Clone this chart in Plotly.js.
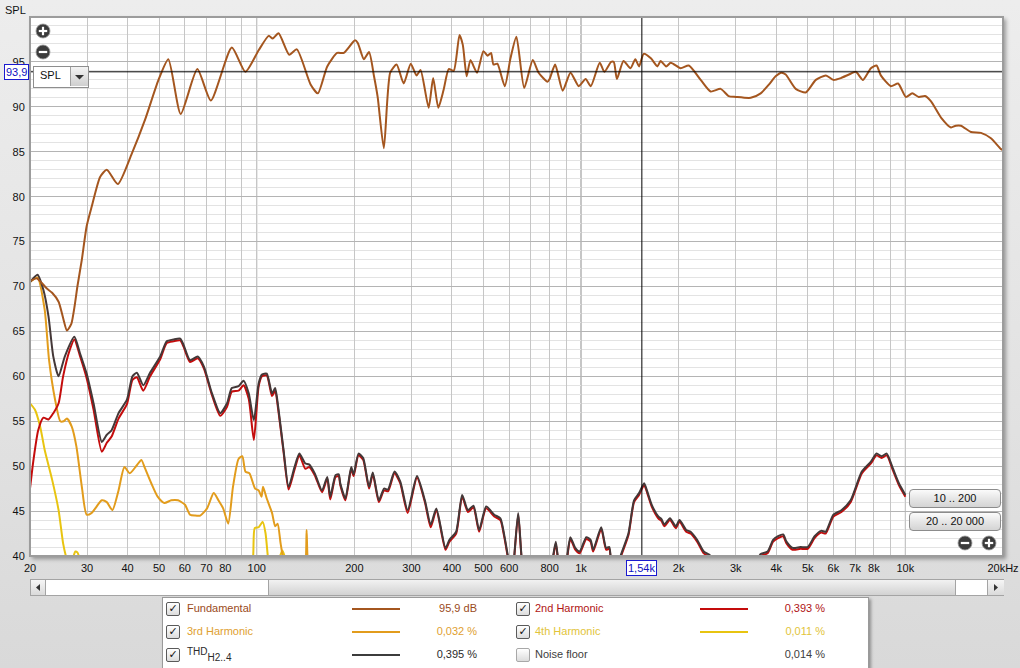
<!DOCTYPE html>
<html>
<head>
<meta charset="utf-8">
<script src="https://cdn.plot.ly/plotly-3.0.1.min.js"></script>
<style>
  html, body { margin:0; padding:0; }
  body { width:1020px; height:668px; overflow:hidden; font-family:"Liberation Sans", Arial, sans-serif; }
  #wrap { position:relative; width:1020px; height:668px; background:linear-gradient(#ededed, #e2e2e2 60%, #d9d9d9); }
  #shadow { position:absolute; left:29px; top:16px; width:974px; height:540px; box-shadow:3px 3px 4px rgba(0,0,0,0.35); background:#fff; }
  #chart { position:absolute; left:0; top:0; width:1020px; height:668px; }
  .ov { position:absolute; font-size:11px; color:#000; }
  .btn { position:absolute; width:90px; height:17px; border:1px solid #8c8c8c; border-radius:4px;
         background:linear-gradient(#fbfbfb, #e6e6e6 50%, #d4d4d4); text-align:center; line-height:17px; font-size:11px; color:#111; }
  .cb { position:absolute; width:12px; height:12px; border:1px solid #5a5a5a; border-radius:2px;
        background:linear-gradient(#ffffff, #dcdcdc); font-family:"DejaVu Sans"; font-size:11px; line-height:12px; text-align:center; font-weight:bold; color:#111; }
  .lbl { position:absolute; font-size:11px; }
  .val { position:absolute; font-size:11px; text-align:right; width:80px; }
  .ln { position:absolute; height:2px; }
</style>
</head>
<body>
<div id="wrap">
  <div id="shadow"></div>
  <div id="chart"></div>
</div>
<script>
// ---------------- DATA ----------------
const freqFund = [20,21,22.5,23.4,24.5,25.3,26,26.8,27.5,28,28.9,29.9,31,32.9,34.5,37.3,41.2,45.3,49.8,53.4,58.3,65.6,72.2,83.8,92.3,101.4,108.9,112,116.8,126,133,146.6,154.4,165,177,185.6,201,205,214,222,230,236,246.6,258,270,284,298.5,311,320,339,350,363,377,391,405,422,432,444,456,478,500,515,528,537,552,582,606,632,668,710,740,788,800,832,878,928,984,1033,1072,1142,1180,1238,1262,1290,1352,1420,1470,1510,1560,1642,1720,1760,1830,1890,2028,2150,2338,2510,2695,2850,3000,3336,3580,3800,3980,4150,4276,4592,4932,5296,5688,6000,6325,6700,7036,7400,7830,8150,8400,9020,9500,10040,10500,11000,11500,12000,12880,13820,14300,14840,15930,17100,18360,19720,20000];
const splFund  = [70.6,70.9,69.8,69.3,68.3,66.5,65.1,65.8,68.0,70.0,73.0,76.7,78.9,82.2,83.0,81.4,84.8,88.6,93.0,95.3,89.2,94.2,90.7,96.6,93.9,96.3,97.9,97.6,98.2,95.8,96.4,92.5,91.5,94.5,96.0,96.0,97.4,97.1,95.3,96.1,93.4,91.1,85.4,93.8,94.7,92.6,94.8,93.5,94.1,89.9,93.2,89.9,91.9,94.2,94.0,98.0,96.9,93.4,95.2,93.8,96.2,95.7,96.0,94.7,94.8,92.3,95.4,97.8,92.1,95.2,93.8,92.8,93.1,94.7,91.8,93.8,92.3,93.1,92.3,94.9,93.9,95.0,95.0,93.1,95.1,94.3,95.3,94.5,95.9,95.4,94.5,95.1,94.5,94.9,94.3,94.6,93.0,91.7,92.0,91.2,91.1,91.0,91.5,92.5,93.4,93.8,93.6,92.0,91.6,93.0,93.5,93.0,93.2,93.6,93.9,93.0,94.3,94.6,93.5,92.3,92.6,91.1,91.5,91.1,91.2,90.6,88.8,87.7,87.9,87.9,87.2,87.1,86.5,85.3,85.2];

const freqTHD = [20,21.1,22,22.8,23.6,24.5,25.6,27.4,28.5,29.9,31.4,33.3,34.5,35.7,37.5,39.8,41.4,42.7,44.7,46.9,50.4,52.8,55.4,58.1,59.5,62.3,65.8,68.7,72.8,77.2,81,83.8,87.9,91.1,94.5,98,101.4,103.8,107.4,111.5,114,116.5,121,125.4,130.8,135.4,141.2,145,151,159,165,168.6,175,179,181,187.7,195.6,199,206,213,222,228,238,247,254,266,277,292,312,330,344,358,382,393,412,430,448,466,485,510,540,564,580,595,612,640,662,690,790,820,836,852,880,905,927,960,990,1038,1070,1090,1154,1195,1222,1250,1300,1327,1400,1457,1510,1565,1600,1652,1730,1770,1806,1880,1960,2012,2110,2177,2280,2390,2510,2650,3300,3500,3572,3760,3910,4050,4200,4300,4490,4750,5000,5250,5500,5680,6000,6350,6780,7340,7830,8150,8450,8760,9140,9550,10000];
const splTHD  = [70.5,71.3,69.6,66.7,62.2,60.0,62.2,64.4,62.6,60.3,57.0,52.7,53.5,54.0,55.9,57.4,60.0,60.4,59.0,60.4,62.2,63.9,64.1,64.2,63.5,61.8,62.2,61.1,58.1,55.9,57.0,58.7,58.9,59.5,58.1,55.1,59.2,60.2,60.3,58.1,58.7,56.6,51.8,47.7,49.9,51.4,50.3,50.2,49.2,47.3,48.8,46.6,49.0,49.1,48.1,46.4,49.9,49.1,51.4,50.9,47.7,49.3,46.2,47.5,47.4,49.4,48.3,45.1,48.9,46.2,43.5,45.3,40.9,41.8,42.7,46.8,45.1,45.6,42.9,45.5,44.6,44.2,42.3,40.0,37.5,44.8,38.5,37.0,37.0,40.0,41.6,39.3,37.0,39.8,42.1,40.9,40.5,42.1,41.8,40.7,43.2,40.9,41.0,38.5,38.5,40.1,42.5,46.2,47.0,48.1,47.2,45.7,44.4,44.1,43.5,44.2,43.3,44.0,42.9,42.7,41.8,40.5,40.0,37.5,37.5,39.5,40.2,40.5,41.8,42.2,42.4,41.6,40.9,41.0,41.0,42.2,42.8,42.7,44.6,45.1,46.2,49.4,50.5,51.4,51.1,51.4,49.8,48.1,46.8];

const freqH2 = [20,20.5,21.2,22,22.8,23.6,24.5,25.3,26.5,27.4,28.5,29.9,31.4,33.3,34.5,35.7,37.5,39.8,41.4,42.7,44.7,46.9,50.4,52.8,55.4,58.1,59.5,62.3,65.8,68.7,72.8,77.2,81,83.8,87.9,91.1,94.5,98,101.4,103.8,107.4,111.5,114,116.5,121,125.4,130.8,135.4,141.2,145,151,159,165,168.6,175,179,181,187.7,195.6,199,206,213,222,228,238,247,254,266,277,292,312,330,344,358,382,393,412,430,448,466,485,510,540,564,580,595,612,640,662,690,790,820,836,852,880,905,927,960,990,1038,1070,1090,1154,1195,1222,1250,1300,1327,1400,1457,1510,1565,1600,1652,1730,1770,1806,1880,1960,2012,2110,2177,2280,2390,2510,2650,3300,3500,3572,3760,3910,4050,4200,4300,4490,4750,5000,5250,5500,5680,6000,6350,6780,7340,7830,8150,8450,8760,9140,9550,10000];
const splH2  = [47.5,50.7,54.0,55.4,55.2,55.9,57.0,60.0,62.9,64.1,62.3,59.8,56.3,51.6,52.6,53.3,55.3,56.9,59.6,59.9,58.4,60.0,61.9,63.7,63.9,64.0,63.3,61.6,62.0,60.9,57.9,55.6,56.6,58.3,58.4,59.0,57.5,52.9,58.9,60.0,60.1,57.8,58.4,56.3,51.6,47.4,49.6,51.2,49.7,49.9,49.0,47.1,48.6,46.3,48.8,48.9,47.9,46.2,49.7,48.9,51.2,50.7,47.5,49.1,46.0,47.3,47.2,49.2,48.1,44.8,48.7,46.0,43.2,45.1,40.7,41.6,42.5,46.6,44.9,45.4,42.7,45.3,44.4,44.0,42.1,39.8,37.4,44.6,38.4,37.0,37.0,39.8,41.4,39.2,37.0,39.6,41.9,40.7,40.3,41.9,41.6,40.5,43.0,40.7,40.8,38.4,38.4,39.9,42.3,46.0,46.8,47.9,47.0,45.5,44.2,43.9,43.3,44.0,43.1,43.8,42.7,42.5,41.6,40.3,39.8,37.4,37.4,39.3,40.0,40.3,41.6,42.0,42.2,41.4,40.7,40.8,40.8,42.0,42.6,42.5,44.4,44.9,46.0,49.2,50.3,51.2,50.9,51.2,49.6,47.9,46.6];

const freqH3 = [20,21.1,22.2,22.9,23.9,24.8,25.4,26,26.9,27.8,28.9,29.9,31,33.3,34.5,35.9,37.5,39.1,40.6,42.7,44.1,45.2,47.3,49.5,51.9,54.5,57.2,60.1,62.3,64.5,67,70.3,73.7,76.2,78.8,81.7,84.5,87.9,90.3,92.3,95,98.9,101.4,103.5,104.6,107.4,111.5,114,116,118.5,121,126,138,141.8,142.5,143.5,147];
const splH3  = [70.5,71.0,67.4,61.8,57.4,55.0,55.0,55.3,54.4,52.2,47.7,44.6,44.8,46.2,46.0,45.1,47.3,49.9,49.2,50.1,50.7,49.8,48.1,46.6,45.9,46.2,46.2,45.7,44.6,44.5,44.5,45.3,47.0,46.2,45.3,43.6,47.7,50.8,51.1,49.4,49.2,47.5,47.3,46.6,47.7,46.4,44.8,43.3,43.6,41.4,39.5,37.5,37.0,39.8,42.9,39.8,37.0];

const freqH4 = [20,20.7,21.5,22.2,23.4,24.5,25.3,25.8,26.3,27,27.6,28,28.6,30,95,97.5,98.6,101.4,104.4,106.5,108.6,111,117,120,123,126];
const splH4  = [57.0,56.3,54.4,51.8,48.5,45.1,41.4,40.0,39.0,39.6,40.5,40.4,39.5,38.0,38.0,40.0,43.1,43.2,43.8,42.5,39.5,38.0,39.6,40.6,39.5,38.0];

const seriesNames  = ["Fundamental", "2nd Harmonic", "3rd Harmonic", "4th Harmonic", "THD", "Noise floor"];
const legendValues = ["95,9 dB", "0,393 %", "0,032 %", "0,011 %", "0,395 %", "0,014 %"];

const xTickVals = [20,30,40,50,60,70,80,90,100,200,300,400,500,600,700,800,900,1000,2000,3000,4000,5000,6000,7000,8000,9000,10000,20000];
const xTickText = ["20","30","40","50","60","70","80","","100","200","300","400","500","600","","800","","1k","2k","3k","4k","5k","6k","7k","8k","","10k","20kHz"];
const yTickVals = [40,45,50,55,60,65,70,75,80,85,90,95];
const decadeLines = [100, 1000, 10000];
const cursorFreq = 1540, cursorSPL = 93.9;
const cursorFreqText = "1,54k", cursorSPLText = "93,9";

// ---------------- STYLE ----------------
const colFund = '#a4561f', colH2 = '#c40c0c', colH3 = '#e29c1c', colH4 = '#e8c410', colTHD = '#443838';
const FONT = '"Liberation Sans", Arial, sans-serif';

function tr(x, y, c, w) {
  return { x:x, y:y, type:'scatter', mode:'lines', line:{color:c, width:w||2, shape:'spline', smoothing:0.6}, hoverinfo:'skip', showlegend:false };
}
const traces = [
  tr(freqH4, splH4, colH4),
  tr(freqH3, splH3, colH3),
  tr(freqH2, splH2, colH2),
  tr(freqTHD, splTHD, colTHD),
  tr(freqFund, splFund, colFund)
];

const shapes = decadeLines.map(f => ({type:'line', xref:'x', yref:'paper', x0:f, x1:f, y0:0, y1:1, line:{color:'#8a8a8a', width:1}, layer:'between'}));
shapes.push({type:'line', xref:'x', yref:'paper', x0:cursorFreq, x1:cursorFreq, y0:0, y1:1, line:{color:'#000', width:1}, layer:'above'});
shapes.push({type:'line', xref:'paper', yref:'y', x0:0, x1:1, y0:cursorSPL, y1:cursorSPL, line:{color:'#000', width:1}, layer:'above'});
shapes.push({type:'rect', xref:'paper', yref:'paper', x0:0, x1:1, y0:0, y1:1, line:{color:'#9c9c9c', width:2}, layer:'above'});

const layout = {
  width:1020, height:668,
  margin:{l:30, r:17, t:17, b:112},
  paper_bgcolor:'rgba(0,0,0,0)', plot_bgcolor:'#ffffff',
  font:{family:FONT, size:11, color:'#111'},
  hovermode:false, showlegend:false,
  xaxis:{type:'log', range:[Math.log10(20), Math.log10(20000)], tickvals:xTickVals, ticktext:xTickText,
         showgrid:true, gridcolor:'#c6c6c6', gridwidth:1, zeroline:false, showline:false,
         ticks:'outside', ticklen:2, tickcolor:'rgba(0,0,0,0)', tickfont:{family:FONT, size:11, color:'#111'}, fixedrange:true},
  yaxis:{range:[40,100], tickvals:yTickVals, showgrid:true, gridcolor:'#b4b4b4', gridwidth:1, zeroline:false, showline:false,
         ticks:'outside', ticklen:2, tickcolor:'rgba(0,0,0,0)', tickfont:{family:FONT, size:11, color:'#111'},
         minor:{dtick:1, showgrid:true, gridcolor:'#e3e3e3', gridwidth:1}, fixedrange:true},
  shapes:shapes,
  annotations:[
    {xref:'x', yref:'paper', x:Math.log10(cursorFreq), y:0, yanchor:'top', yshift:-4, text:cursorFreqText, showarrow:false,
     font:{family:FONT, size:11, color:'#1010c0'}, bgcolor:'#ffffff', bordercolor:'#1a1ad0', borderwidth:1, borderpad:1},
    {xref:'paper', yref:'y', x:0, y:cursorSPL, xanchor:'right', xshift:-1, text:cursorSPLText, showarrow:false,
     font:{family:FONT, size:11, color:'#1010c0'}, bgcolor:'#ffffff', bordercolor:'#1a1ad0', borderwidth:1, borderpad:1}
  ]
};

Plotly.newPlot('chart', traces, layout, {staticPlot:true, displayModeBar:false}).then(buildOverlay);

// ---------------- OVERLAY (UI chrome & legend) ----------------
function el(tag, css, html) {
  const d = document.createElement(tag);
  d.style.cssText = css;
  if (html !== undefined) d.innerHTML = html;
  document.getElementById('wrap').appendChild(d);
  return d;
}
function zoomIcon(cx, cy, plus) {
  const s = '<svg width="16" height="16" viewBox="0 0 16 16"><circle cx="8" cy="8" r="7" fill="#3c3c3c"/><circle cx="8" cy="8" r="7" fill="none" stroke="#9a9a9a" stroke-width="0.8"/>'
    + '<rect x="3.8" y="6.9" width="8.4" height="2.2" fill="#fff"/>'
    + (plus ? '<rect x="6.9" y="3.8" width="2.2" height="8.4" fill="#fff"/>' : '') + '</svg>';
  el('div', 'position:absolute;left:' + (cx - 8) + 'px;top:' + (cy - 8) + 'px;width:16px;height:16px;', s);
}
function buildOverlay() {
  el('div', 'position:absolute;left:5px;top:4px;font-size:11px;color:#111;', 'SPL');
  zoomIcon(43, 31, true);
  zoomIcon(43, 52, false);
  // dropdown
  el('div', 'position:absolute;left:33px;top:66px;width:54px;height:20px;border:1px solid #8e8e8e;background:#fff;', '');
  el('div', 'position:absolute;left:40px;top:69px;font-size:11px;color:#111;', 'SPL');
  el('div', 'position:absolute;left:70px;top:67px;width:17px;height:19px;border-left:1px solid #a0a0a0;background:linear-gradient(#f4f4f4,#cfcfcf);', 
     '<svg width="17" height="19"><polygon points="4,8 13,8 8.5,12.5" fill="#333"/></svg>');
  // range buttons
  el('div', '', '').className = '';
  const b1 = el('div', 'left:909px;top:489px;', '10 .. 200'); b1.className = 'btn';
  const b2 = el('div', 'left:909px;top:512px;', '20 .. 20 000'); b2.className = 'btn';
  zoomIcon(965, 543, false);
  zoomIcon(989, 543, true);
  // scrollbar
  el('div', 'position:absolute;left:30px;top:579px;width:972px;height:15px;border:1px solid #a4a4a4;background:linear-gradient(#f2f2f2,#d2d2d2);', '');
  el('div', 'position:absolute;left:31px;top:580px;width:14px;height:15px;border-right:1px solid #a4a4a4;background:linear-gradient(#f6f6f6,#dadada);',
     '<svg width="14" height="15"><polygon points="9,4 9,11 5,7.5" fill="#333"/></svg>');
  el('div', 'position:absolute;left:46px;top:580px;width:222px;height:15px;background:#fff;border-right:1px solid #a4a4a4;', '');
  el('div', 'position:absolute;left:955px;top:580px;width:32px;height:15px;background:#fff;border-left:1px solid #a4a4a4;', '');
  el('div', 'position:absolute;left:987px;top:580px;width:16px;height:15px;border-left:1px solid #a4a4a4;background:linear-gradient(#f6f6f6,#dadada);',
     '<svg width="16" height="15"><polygon points="6,4 6,11 10,7.5" fill="#333"/></svg>');
  // legend box
  el('div', 'position:absolute;left:162px;top:597px;width:705px;height:72px;border:1px solid #9a9a9a;background:#fff;box-shadow:2px 2px 3px rgba(0,0,0,0.35);', '');
  const rows = [
    {i:0, col:0, row:0, tc:'#9a4a1a', lc:colFund, check:true},
    {i:1, col:1, row:0, tc:'#b01414', lc:colH2, check:true},
    {i:2, col:0, row:1, tc:'#e0a030', lc:colH3, check:true},
    {i:3, col:1, row:1, tc:'#e2c43a', lc:colH4, check:true},
    {i:4, col:0, row:2, tc:'#2a2a2a', lc:'#3c3c3c', check:true},
    {i:5, col:1, row:2, tc:'#404040', lc:null, check:false}
  ];
  const rowY = [609, 632, 655];
  const colX = [{cb:166, lab:187, l0:352, l1:400, vr:477}, {cb:516, lab:535, l0:700, l1:748, vr:825}];
  rows.forEach(r => {
    const c = colX[r.col], y = rowY[r.row];
    const cb = el('div', 'left:' + c.cb + 'px;top:' + (y - 7) + 'px;' + (r.check ? '' : 'border-color:#a8a8a8;'), r.check ? '✓' : '');
    cb.className = 'cb';
    let name = seriesNames[r.i];
    if (name === 'THD') name = '<span style="position:relative;top:-3px;font-size:10px;">THD</span><span style="position:relative;top:3px;font-size:10px;">H2..4</span>';
    const lb = el('div', 'left:' + c.lab + 'px;top:' + (y - 7) + 'px;color:' + r.tc + ';', name); lb.className = 'lbl';
    if (r.lc) { const ln = el('div', 'left:' + c.l0 + 'px;top:' + (y - 1) + 'px;width:' + (c.l1 - c.l0) + 'px;background:' + r.lc + ';', ''); ln.className = 'ln'; }
    const v = el('div', 'left:' + (c.vr - 80) + 'px;top:' + (y - 7) + 'px;color:' + r.tc + ';', legendValues[r.i]); v.className = 'val';
  });
}
</script>
</body>
</html>
